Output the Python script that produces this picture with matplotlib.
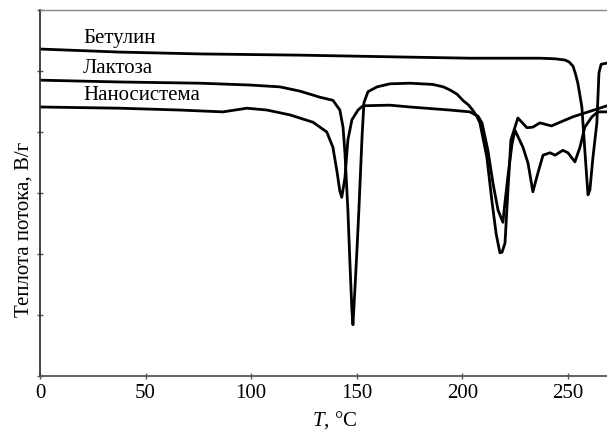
import matplotlib.pyplot as plt

plt.rcParams['font.family'] = 'Liberation Serif'
plt.rcParams['mathtext.fontset'] = 'custom'
plt.rcParams['mathtext.rm'] = 'Liberation Serif'
plt.rcParams['mathtext.it'] = 'Liberation Serif:italic'

# температура, °C и тепловой поток (усл. ед.)
t_betulin = [0, 37.9, 75.8, 123.1, 170.5, 203.6, 236.7, 244.0, 248.6, 250.5,
             252.4, 253.6, 254.7, 256.6, 258.0, 259.0, 259.5, 260.4, 261.8, 263.7,
             264.7, 265.7, 268.5]
q_betulin = [5.36, 5.31, 5.28, 5.26, 5.23, 5.21, 5.21, 5.20, 5.18, 5.15,
             5.08, 4.95, 4.80, 4.41, 3.70, 3.21, 2.97, 3.05, 3.57, 4.15,
             4.97, 5.11, 5.13]

t_lactose = [0, 37.9, 75.8, 99.4, 113.6, 123.1, 132.6, 138.7, 142.0, 143.5,
             144.4, 145.8, 146.8, 147.7, 148.2, 149.1, 150.1, 151.0, 152.5, 153.4,
             155.3, 159.6, 165.7, 175.2, 186.0, 191.0, 194.1, 197.5, 200.2, 203.0,
             204.9, 206.8, 208.3, 211.6, 214.0, 216.0, 217.8, 218.8, 220.2, 221.6,
             223.0, 226.3, 230.6, 233.4, 236.7, 242.2, 252.4, 262.3, 268.5]
q_lactose = [4.85, 4.82, 4.80, 4.77, 4.74, 4.67, 4.57, 4.52, 4.36, 4.08,
             3.66, 2.72, 1.82, 1.08, 0.84, 1.41, 2.07, 2.72, 3.92, 4.48,
             4.66, 4.74, 4.79, 4.80, 4.78, 4.74, 4.69, 4.62, 4.52, 4.44,
             4.36, 4.26, 4.15, 3.59, 2.87, 2.33, 2.02, 2.03, 2.18, 3.05,
             3.87, 4.23, 4.07, 4.08, 4.15, 4.10, 4.25, 4.36, 4.43]

t_nano = [0, 37.9, 66.3, 86.6, 98.0, 107.5, 118.4, 129.3, 135.8, 138.7,
          140.6, 142.0, 142.9, 144.4, 145.8, 147.7, 150.6, 152.9, 165.7, 175.2,
          194.1, 203.6, 207.4, 209.3, 212.1, 214.5, 216.9, 219.2, 220.2, 221.6,
          223.5, 224.9, 228.7, 231.1, 233.4, 235.8, 238.2, 241.5, 243.9, 247.6,
          250.0, 253.3, 255.7, 258.0, 261.4, 264.2, 268.5]
q_nano = [4.41, 4.39, 4.36, 4.33, 4.39, 4.36, 4.28, 4.16, 4.00, 3.75,
          3.36, 3.03, 2.93, 3.25, 3.87, 4.20, 4.36, 4.43, 4.44, 4.41,
          4.36, 4.33, 4.26, 4.15, 3.70, 3.16, 2.72, 2.52, 2.85, 3.28,
          3.80, 4.03, 3.75, 3.49, 3.02, 3.33, 3.62, 3.66, 3.62, 3.70,
          3.66, 3.51, 3.75, 4.08, 4.25, 4.33, 4.33]

labels = ['Бетулин', 'Лактоза', 'Наносистема']
label_y = [5.46, 4.97, 4.52]

fig = plt.figure(figsize=(6.07, 4.33), dpi=100)
ax = fig.add_axes([0.0659, 0.1316, 0.9341, 0.8453])

for t, q in [(t_betulin, q_betulin), (t_lactose, q_lactose), (t_nano, q_nano)]:
    ax.plot(t, q, color='black', lw=2.0, solid_joinstyle='round')

for lab, y in zip(labels, label_y):
    ax.text(20.4, y, lab, fontsize=15, va='baseline', ha='left')

ax.set_xlim(0, 268.5)
ax.set_ylim(0, 6)
ax.set_xticks([0, 50, 100, 150, 200, 250])
ax.set_yticks(range(7))
ax.set_yticklabels([])
ax.tick_params(direction='inout', length=5, width=1, color='#555555', labelsize=15)
ax.tick_params(axis='x', pad=3)

ax.spines['right'].set_visible(False)
ax.spines['top'].set_color('#888888')
ax.spines['top'].set_linewidth(1)
ax.spines['left'].set_linewidth(1.3)
ax.spines['bottom'].set_linewidth(1.3)
ax.spines['left'].set_color('#333333')
ax.spines['bottom'].set_color('#555555')

ax.set_xlabel('$T$, °C', fontsize=15)
ax.xaxis.set_label_coords(0.52, -0.09)
ax.set_ylabel('Теплота потока, В/г', fontsize=15)
ax.yaxis.set_label_coords(-0.012, 0.40)

plt.savefig('out.png', dpi=100)
